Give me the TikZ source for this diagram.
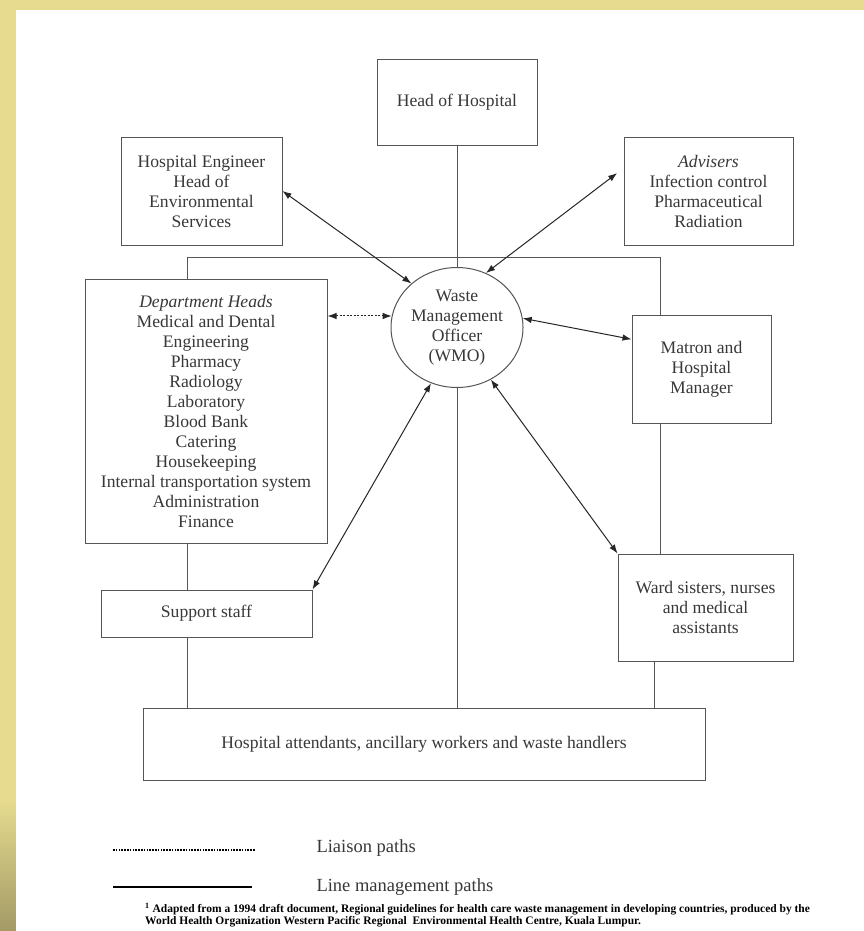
\documentclass[tikz,border=0pt]{standalone}
\usepackage{fontspec}
\setmainfont{Liberation Serif}
\usetikzlibrary{arrows,arrows.meta,shapes.geometric}
\definecolor{amarelo}{HTML}{E6DB8F}
\definecolor{oliva}{HTML}{A39A66}
\definecolor{texto}{HTML}{383838}
\definecolor{borda}{HTML}{555555}
\tikzset{
  caixa/.style={draw=borda,line width=1pt,rectangle,align=center,text=texto,
    font=\fontsize{17.6}{20}\selectfont,inner sep=2pt},
  ligacao/.style={draw=borda,line width=.9pt},
  seta/.style={{Latex[length=9pt,width=6.5pt]}-{Latex[length=9pt,width=6.5pt]},draw=black!85,line width=1pt},
}

\begin{document}
\begin{tikzpicture}[>=latex,x=1pt,y=-1pt]
	%fundo
	\fill[amarelo] (0,0) rectangle (864,931);
	\shade[top color=amarelo,bottom color=oliva] (0,800) rectangle (16,931);
	\fill[white] (16,10) rectangle (864,931);
	\useasboundingbox (0,0) rectangle (864,931);
	%caixas
	\node[caixa,minimum width=160,minimum height=85] (hoh) at (457,102.5) {Head of Hospital};
	\node[caixa,minimum width=161,minimum height=108] (eng) at (201.5,191)
		{Hospital Engineer\\Head of\\Environmental\\Services};
	\node[caixa,minimum width=169,minimum height=108] (adv) at (708.5,191)
		{\textit{Advisers}\\Infection control\\Pharmaceutical\\Radiation};
	\node[caixa,ellipse,inner sep=0pt,minimum width=132,minimum height=120] (wmo) at (457,327.5)
		{Waste\\Management\\Officer\\(WMO)};
	\node[caixa,minimum width=242,minimum height=264] (dep) at (206,411)
		{\textit{Department Heads}\\Medical and Dental\\Engineering\\Pharmacy\\Radiology\\Laboratory\\
		Blood Bank\\Catering\\Housekeeping\\Internal transportation system\\Administration\\Finance};
	\node[caixa,minimum width=139,minimum height=108] (mat) at (701.5,369) {Matron and\\Hospital\\Manager};
	\node[caixa,minimum width=211,minimum height=47] (sup) at (206.5,613.5) {Support staff};
	\node[caixa,minimum width=175,minimum height=107] (ward) at (705.5,607.5)
		{Ward sisters, nurses\\and medical\\assistants};
	\node[caixa,minimum width=562,minimum height=72] (att) at (424,744)
		{Hospital attendants, ancillary workers and waste handlers};
	%linhas de gestao
	\coordinate (jl) at (187,257);
	\coordinate (jr) at (660,257);
	\coordinate (jw) at (654,661);
	\draw[ligacao] (hoh) -- (wmo);
	\draw[ligacao] (dep.north -| jl) -- (jl) -- (jr) -- (mat.north -| jr);
	\draw[ligacao] (mat.south -| jr) -- (ward.north -| jr);
	\draw[ligacao] (dep.south -| jl) -- (sup.north -| jl);
	\draw[ligacao] (sup.south -| jl) -- (att.north -| jl);
	\draw[ligacao] (wmo) -- (wmo.south |- att.north);
	\draw[ligacao] (jw) -- (att.north -| jw);
	%setas
	\draw[seta] (eng.east) -- (wmo.136);
	\draw[seta,shorten <=8pt] (adv.165) -- (wmo.62);
	\draw[seta,dash pattern=on 2pt off 1.5pt] (dep.east |- wmo.170) -- (wmo.170);
	\draw[seta] (wmo.8) -- (mat.157);
	\draw[seta] (wmo.245) -- (sup.north east);
	\draw[seta] (wmo.303) -- (ward.north west);
	%legenda
	\draw[line width=1.6pt,dash pattern=on 1.6pt off 1.2pt] (113,850) -- (255,850);
	\node[anchor=west,text=texto,font=\fontsize{18.5}{20}\selectfont] (lia) at (313,848) {Liaison paths};
	\draw[line width=2.5pt] (113,887) -- (252,887);
	\node[anchor=west,text=texto,font=\fontsize{18.5}{20}\selectfont] (lin) at (313,887) {Line management paths};
	\node[anchor=north west,align=left,inner sep=0pt,font=\fontsize{11.5}{12}\selectfont\bfseries] (nota) at (145,903)
		{\textsuperscript{1} Adapted from a 1994 draft document, Regional guidelines for health care waste management in developing countries, produced by the\\
		World Health Organization Western Pacific Regional\ \ Environmental Health Centre, Kuala Lumpur.};
\end{tikzpicture}
\end{document}
